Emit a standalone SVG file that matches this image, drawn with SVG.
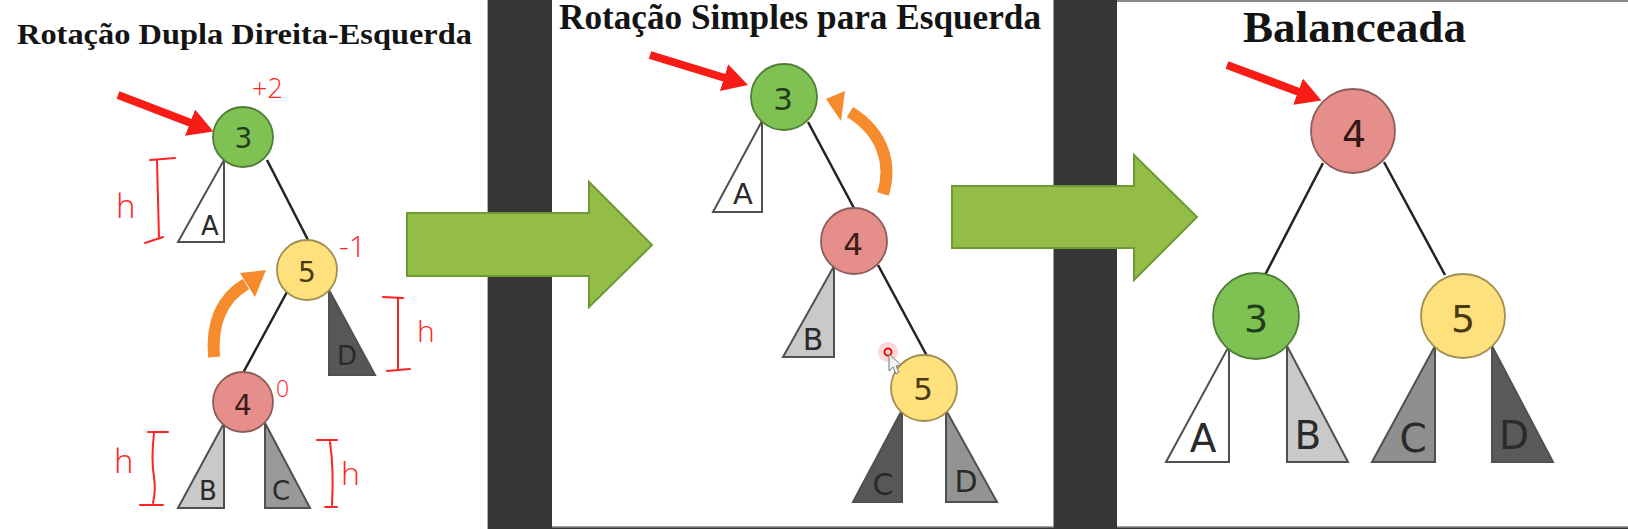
<svg xmlns="http://www.w3.org/2000/svg" width="1628" height="529" viewBox="0 0 1628 529">
<defs>
<style>
.title{font-family:"Liberation Serif","Times New Roman",serif;font-weight:bold;fill:#141414}
.lbl{font-family:"DejaVu Sans",sans-serif;text-anchor:middle;fill:#2a2a2a}
.edge{stroke:#222;stroke-width:2.5;fill:none}
.tri{stroke:#505050;stroke-width:2;stroke-linejoin:miter}
.g{fill:#7fc152;stroke:#4f7d37;stroke-width:1.8}
.p{fill:#e68e89;stroke:#8b5d5a;stroke-width:1.8}
.y{fill:#fee17c;stroke:#a18f52;stroke-width:1.8}
.hand{font-family:"Open Sans","DejaVu Sans",sans-serif;font-weight:300;fill:#ff2424}
.br{stroke:#ff2424;stroke-width:2;fill:none;stroke-linecap:round}
.red{stroke:#f81c16;stroke-width:8;fill:none}
.orange{stroke:#f58b2c;stroke-width:12;fill:none}
.big{fill:#93bd46;stroke:#6d9a34;stroke-width:2}
</style>
<marker id="rh" markerUnits="userSpaceOnUse" markerWidth="28" markerHeight="30" refX="1" refY="14" orient="auto">
<path d="M0,0 L25,14 L0,28 z" fill="#f81c16"/>
</marker>
</defs>

<!-- backgrounds -->
<rect x="0" y="0" width="1628" height="529" fill="#363636"/>
<rect x="0" y="0" width="488" height="529" fill="#ffffff"/>
<line x1="487.5" y1="0" x2="487.5" y2="529" stroke="#b0b0b0" stroke-width="1"/>
<rect x="552" y="0" width="502" height="527" fill="#ffffff"/>
<line x1="1053.5" y1="0" x2="1053.5" y2="527" stroke="#9a9a9a" stroke-width="1"/>
<line x1="552" y1="527" x2="1054" y2="527" stroke="#808080" stroke-width="1.5"/>
<rect x="1117" y="1" width="511" height="526" fill="#ffffff"/>
<line x1="1117" y1="1" x2="1628" y2="1" stroke="#8a8a8a" stroke-width="2"/>
<line x1="1117" y1="527" x2="1628" y2="527" stroke="#808080" stroke-width="1.5"/>

<!-- titles -->
<text class="title" x="17" y="44" font-size="30" textLength="455" lengthAdjust="spacingAndGlyphs">Rotação Dupla Direita-Esquerda</text>
<text class="title" x="559" y="29" font-size="35" textLength="482" lengthAdjust="spacingAndGlyphs">Rotação Simples para Esquerda</text>
<text class="title" x="1243" y="42" font-size="45" textLength="223" lengthAdjust="spacingAndGlyphs">Balanceada</text>

<!-- connectors -->
<g id="connectors">
<line class="edge" x1="267" y1="160" x2="308" y2="240"/>
<line class="edge" x1="287" y1="292" x2="243" y2="373"/>
<line class="edge" x1="808" y1="122" x2="855" y2="210"/>
<line class="edge" x1="878" y1="265" x2="927" y2="356"/>
<line class="edge" x1="1323" y1="163" x2="1265" y2="275"/>
<line class="edge" x1="1384" y1="162" x2="1445" y2="275"/>
</g>

<!-- panel 1 subtrees -->
<g id="p1-A"><polygon class="tri" points="224,160 224,242 178,242" fill="#ffffff"/><text class="lbl" x="210" y="235" font-size="26">A</text></g>
<g id="p1-D"><polygon class="tri" points="329,290 329,375 375,375" fill="#575757"/><text class="lbl" x="347" y="365" font-size="26">D</text></g>
<g id="p1-B"><polygon class="tri" points="224,423 224,508 178,508" fill="#c9c9c9"/><text class="lbl" x="208" y="500" font-size="26">B</text></g>
<g id="p1-C"><polygon class="tri" points="265,423 265,508 310,508" fill="#999999"/><text class="lbl" x="281" y="500" font-size="26">C</text></g>
<g id="p1-n3"><circle class="g" cx="243" cy="137" r="30"/><text class="lbl" x="243.5" y="148" font-size="28" style="fill:#21401a">3</text></g>
<g id="p1-n5"><circle class="y" cx="307" cy="270" r="30"/><text class="lbl" x="307" y="282" font-size="28" style="fill:#4a3b12">5</text></g>
<g id="p1-n4"><circle class="p" cx="243" cy="402" r="30"/><text class="lbl" x="243" y="415" font-size="28" style="fill:#3a1c1c">4</text></g>

<!-- panel 2 subtrees -->
<g id="p2-A"><polygon class="tri" points="762,121 762,212 713,212" fill="#ffffff"/><text class="lbl" x="743" y="204" font-size="29">A</text></g>
<g id="p2-B"><polygon class="tri" points="834,266 834,357 783,357" fill="#c9c9c9"/><text class="lbl" x="813" y="350" font-size="30">B</text></g>
<g id="p2-C"><polygon class="tri" points="902,410 902,502 853,502" fill="#575757"/><text class="lbl" x="883" y="495" font-size="30">C</text></g>
<g id="p2-D"><polygon class="tri" points="946,410 946,502 997,502" fill="#939393"/><text class="lbl" x="966" y="492" font-size="30">D</text></g>
<g id="p2-n3"><circle class="g" cx="784" cy="97" r="33"/><text class="lbl" x="783" y="110" font-size="31" style="fill:#21401a">3</text></g>
<g id="p2-n4"><circle class="p" cx="854" cy="241" r="33"/><text class="lbl" x="853" y="255" font-size="31" style="fill:#3a1c1c">4</text></g>
<g id="p2-n5"><circle class="y" cx="924" cy="388" r="33"/><text class="lbl" x="923" y="400" font-size="31" style="fill:#4a3b12">5</text></g>

<!-- panel 3 subtrees -->
<g id="p3-A"><polygon class="tri" points="1229,346 1229,462 1166,462" fill="#ffffff"/><text class="lbl" x="1203" y="452" font-size="39">A</text></g>
<g id="p3-B"><polygon class="tri" points="1287,346 1287,462 1348,462" fill="#c9c9c9"/><text class="lbl" x="1308" y="449" font-size="39">B</text></g>
<g id="p3-C"><polygon class="tri" points="1435,346 1435,462 1372,462" fill="#8f8f8f"/><text class="lbl" x="1413" y="452" font-size="39">C</text></g>
<g id="p3-D"><polygon class="tri" points="1492,346 1492,462 1553,462" fill="#5a5a5a"/><text class="lbl" x="1514" y="449" font-size="39">D</text></g>
<g id="p3-n4"><circle class="p" cx="1353" cy="131" r="42"/><text class="lbl" x="1354" y="147" font-size="38" style="fill:#2e1818">4</text></g>
<g id="p3-n3"><circle class="g" cx="1256" cy="316" r="43"/><text class="lbl" x="1256" y="332" font-size="38" style="fill:#21401a">3</text></g>
<g id="p3-n5"><circle class="y" cx="1463" cy="316" r="42"/><text class="lbl" x="1463" y="332" font-size="38" style="fill:#4a3b12">5</text></g>

<!-- annotations -->
<g id="annotations">
<line class="red" x1="118" y1="95" x2="191" y2="123" marker-end="url(#rh)"/>
<line class="red" x1="650" y1="55" x2="725" y2="78" marker-end="url(#rh)"/>
<line class="red" x1="1227" y1="65" x2="1299" y2="92" marker-end="url(#rh)"/>

<path class="orange" d="M214,357 Q210,305 246,284"/>
<polygon points="266,270 240,273 255,297" fill="#f58b2c"/>
<path class="orange" d="M883,194 C892,165 884,133 850,112"/>
<polygon points="826,99 845,91 841,121" fill="#f58b2c"/>

<path class="br" d="M150,160 L175,158 M157,161 L159,238 M145,243 L163,237"/>
<path class="br" d="M383,297 L403,298 M398,298 L398,370 M387,371 L410,369"/>
<path class="br" d="M148,432 L168,432 M154,433 Q151,460 154,477 Q156,490 153,503 M140,505 L163,505"/>
<path class="br" d="M317,440 L337,440 M330,442 Q334,470 332,505 M325,507 L337,507"/>
<text class="hand" x="252" y="98" font-size="27">+2</text>
<text class="hand" x="339" y="257" font-size="30">-1</text>
<text class="hand" x="116" y="218" font-size="33">h</text>
<text class="hand" x="417" y="342" font-size="30">h</text>
<text class="hand" x="114" y="473" font-size="33">h</text>
<text class="hand" x="341" y="485" font-size="32">h</text>
<text class="hand" x="276" y="397" font-size="23">0</text>

<circle cx="888" cy="352" r="10" fill="#ff6060" opacity="0.25"/>
<circle cx="888" cy="352" r="3.5" fill="none" stroke="#e81010" stroke-width="2"/>
<path d="M889,354 L889,371 L893,367 L896,374 L899,372 L896,366 L901,365 z" fill="#f4f4f4" stroke="#777" stroke-width="1"/>
</g>

<!-- transition arrows -->
<g id="transitions">
<polygon class="big" points="407,213 589,213 589,182 652,245 589,307 589,276 407,276"/>
<polygon class="big" points="952,186 1134,186 1134,155 1197,217 1134,280 1134,248 952,248"/>
</g>
</svg>
